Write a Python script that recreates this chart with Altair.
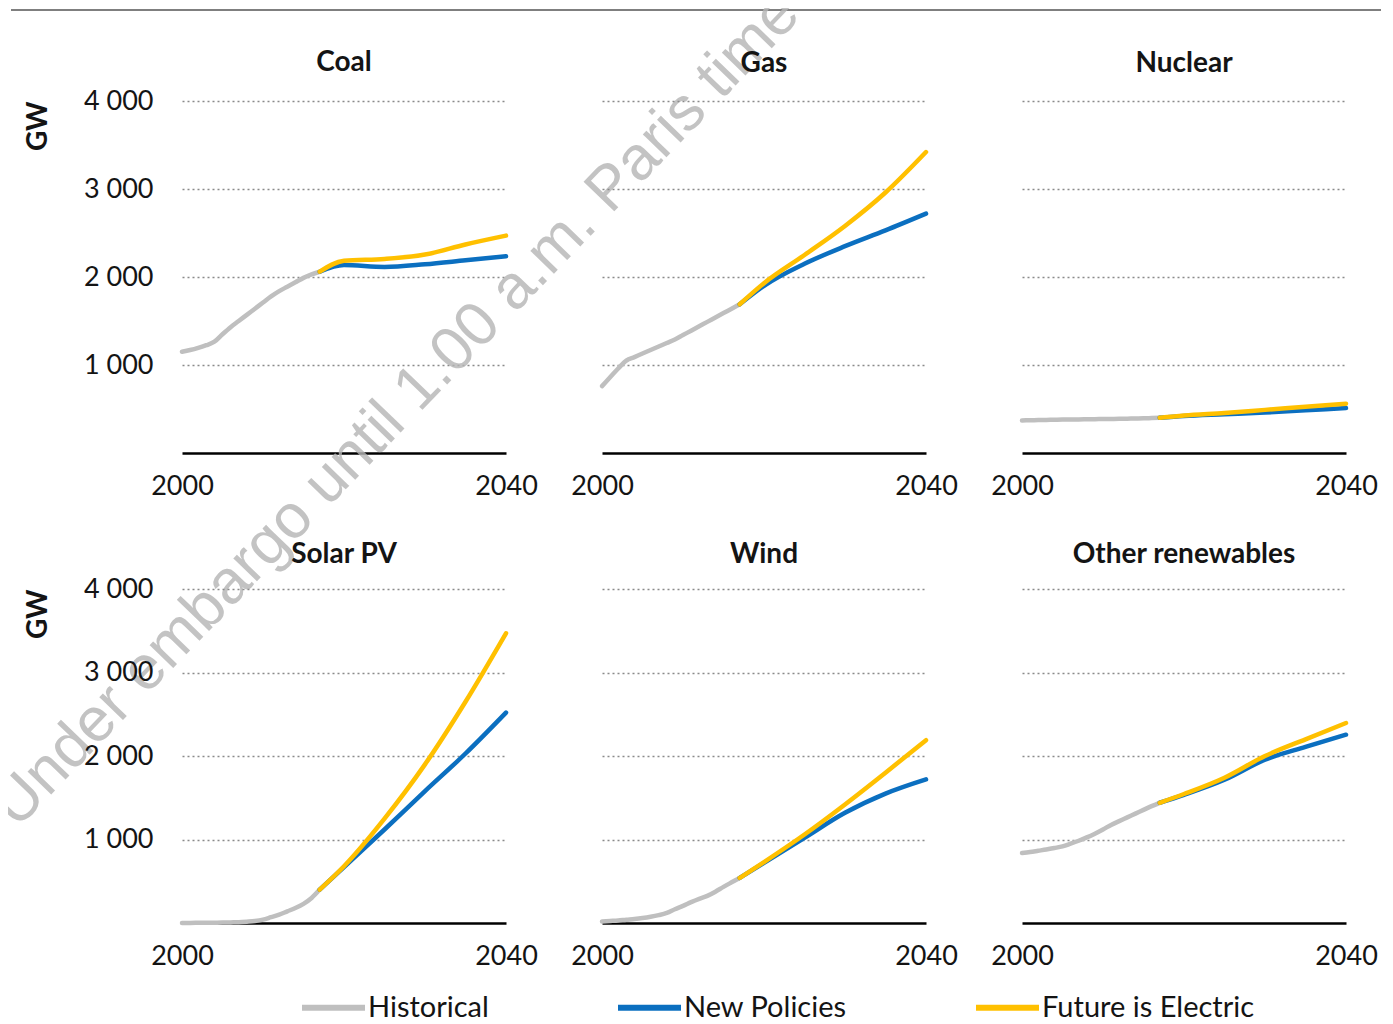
import altair as alt
import pandas as pd

PANELS = ["Coal", "Gas", "Nuclear", "Solar PV", "Wind", "Other renewables"]
SCENARIOS = ["Historical", "New Policies", "Future is Electric"]
COLORS = ["#bfbfbf", "#0b6fc0", "#ffc000"]

HIST_YEARS = list(range(2000, 2018))
PROJ_YEARS = [2017, 2020, 2025, 2030, 2035, 2040]

coal_hist = [1150, 1170, 1195, 1225, 1265, 1350, 1430, 1500, 1570, 1640, 1710, 1780, 1840, 1890, 1940, 1990, 2030, 2060]
coal_np = [2060, 2135, 2115, 2145, 2190, 2235]
coal_fe = [2060, 2185, 2205, 2255, 2370, 2470]

gas_hist = [760, 860, 960, 1050, 1090, 1130, 1170, 1210, 1250, 1290, 1340, 1390, 1440, 1490, 1540, 1590, 1640, 1690]
gas_np = [1690, 1900, 2150, 2350, 2530, 2720]
gas_fe = [1690, 1930, 2250, 2580, 2960, 3420]

nuclear_hist = [370, 372, 374, 376, 378, 380, 381, 382, 383, 384, 386, 387, 388, 390, 392, 394, 397, 400]
nuclear_np = [400, 420, 440, 460, 485, 510]
nuclear_fe = [400, 425, 455, 490, 525, 560]

solar_hist = [1, 1, 2, 3, 4, 5, 7, 9, 15, 23, 40, 70, 100, 140, 180, 230, 300, 400]
solar_np = [400, 670, 1120, 1580, 2030, 2520]
solar_fe = [400, 680, 1250, 1900, 2650, 3470]

wind_hist = [17, 24, 31, 40, 48, 59, 74, 94, 121, 165, 205, 250, 290, 325, 375, 433, 487, 540]
wind_np = [540, 720, 1020, 1320, 1550, 1720]
wind_fe = [540, 730, 1060, 1420, 1800, 2190]

other_hist = [838, 850, 865, 880, 898, 918, 950, 985, 1025, 1070, 1120, 1175, 1220, 1265, 1310, 1355, 1400, 1440]
other_np = [1440, 1535, 1715, 1956, 2110, 2255]
other_fe = [1440, 1545, 1740, 2000, 2200, 2395]

SERIES = {
    "Coal": (coal_hist, coal_np, coal_fe),
    "Gas": (gas_hist, gas_np, gas_fe),
    "Nuclear": (nuclear_hist, nuclear_np, nuclear_fe),
    "Solar PV": (solar_hist, solar_np, solar_fe),
    "Wind": (wind_hist, wind_np, wind_fe),
    "Other renewables": (other_hist, other_np, other_fe),
}

Y_TICKS = [1000, 2000, 3000, 4000]
X_TICKS = [2000, 2040]
Y_TITLE = "GW"
WATERMARK = "Under embargo until 1.00 a.m. Paris time"

rows = []
for p in PANELS:
    h, npol, fe = SERIES[p]
    for yr, v in zip(HIST_YEARS, h):
        rows.append({"panel": p, "year": yr, "value": v, "scenario": "Historical"})
    for yr, v in zip(PROJ_YEARS, npol):
        rows.append({"panel": p, "year": yr, "value": v, "scenario": "New Policies"})
    for yr, v in zip(PROJ_YEARS, fe):
        rows.append({"panel": p, "year": yr, "value": v, "scenario": "Future is Electric"})
df = pd.DataFrame(rows)

FONT = "Lato"
TXT = "#141414"

color = alt.Color(
    "scenario:N",
    scale=alt.Scale(domain=SCENARIOS, range=COLORS),
    legend=alt.Legend(
        title=None, orient="none", legendX=117, legendY=872, direction="horizontal",
        columns=3, symbolType="stroke", symbolSize=3969, symbolStrokeWidth=6,
        labelFontSize=29, labelFont=FONT, labelColor=TXT, labelOffset=0,
        columnPadding=117, labelLimit=400,
    ),
)

# title offsets per (row, col) so that titles sit at the same height above each plot
TITLE_OFFSET = {(0, 0): 9, (0, 1): 23, (0, 2): 23, (1, 0): 6, (1, 1): 20, (1, 2): 20}


def panel(i, name):
    row, col = divmod(i, 3)
    h = 352 if row == 0 else 334
    d = df[df.panel == name]
    x = alt.X(
        "year:Q",
        scale=alt.Scale(domain=[2000, 2040], nice=False, zero=False),
        axis=alt.Axis(values=X_TICKS, format="d", labelFlush=False, ticks=False, grid=False,
                      domain=True, domainColor="#000000", domainWidth=2.5,
                      labelFontSize=27, labelFont=FONT, labelColor=TXT,
                      labelPadding=20, title=None),
    )
    ykw = dict(values=Y_TICKS, grid=True, gridDash=[2, 3], gridColor="#8a8a8a", gridWidth=1.4,
               domain=False, ticks=False)
    if col == 0:
        ykw.update(labels=True, labelFontSize=27, labelFont=FONT, labelColor=TXT, labelPadding=29,
                   labelExpr="replace(format(datum.value, ','), ',', ' ')",
                   title=Y_TITLE, titleFont=FONT, titleFontSize=28, titleFontWeight="bold",
                   titleColor=TXT, titleX=-144, titleY=0, titleAngle=270, titleAlign="right",
                   titleBaseline="middle")
    else:
        ykw.update(labels=False, title=None)
    y = alt.Y("value:Q", scale=alt.Scale(domain=[0, 4000], nice=False), axis=alt.Axis(**ykw))

    layers = []
    for s in SCENARIOS:
        layers.append(
            alt.Chart(d).transform_filter(alt.datum.scenario == s)
            .mark_line(strokeWidth=4.5, interpolate="monotone", strokeCap="round")
            .encode(x=x, y=y, color=color)
        )
    tkw = dict(text=name, fontSize=28, font=FONT, fontWeight="bold", color=TXT,
               anchor="middle", offset=TITLE_OFFSET[(row, col)])
    if i == 0:
        # page header rule and the diagonal watermark of the source page
        layers.append(
            alt.Chart(pd.DataFrame({"t": [0]})).mark_rule(color="#7f7f7f", strokeWidth=2)
            .encode(x=alt.value(-171), x2=alt.value(1199), y=alt.value(-91))
        )
        wm = pd.DataFrame({"t": [WATERMARK]})
        layers.append(
            alt.Chart(wm).mark_text(angle=314, fontSize=62, font="Liberation Sans", color="#b5b5b5",
                                    opacity=0.8, align="center", baseline="middle")
            .encode(text="t:N", x=alt.value(214), y=alt.value(309))
        )
        tkw["dy"] = 104
    return alt.layer(*layers).properties(width=324, height=h, title=alt.TitleParams(**tkw))


charts = [panel(i, p) for i, p in enumerate(PANELS)]

chart = (
    alt.concat(*charts, columns=3)
    .properties(spacing={"row": 136, "column": 96}, bounds="flush",
                padding={"left": -27, "top": -27, "right": 0, "bottom": 0})
    .resolve_scale(color="shared")
    .resolve_legend(color="shared")
    .configure_view(strokeWidth=0)
)

chart.save("out.html", embed_options={"renderer": "svg", "actions": False})
